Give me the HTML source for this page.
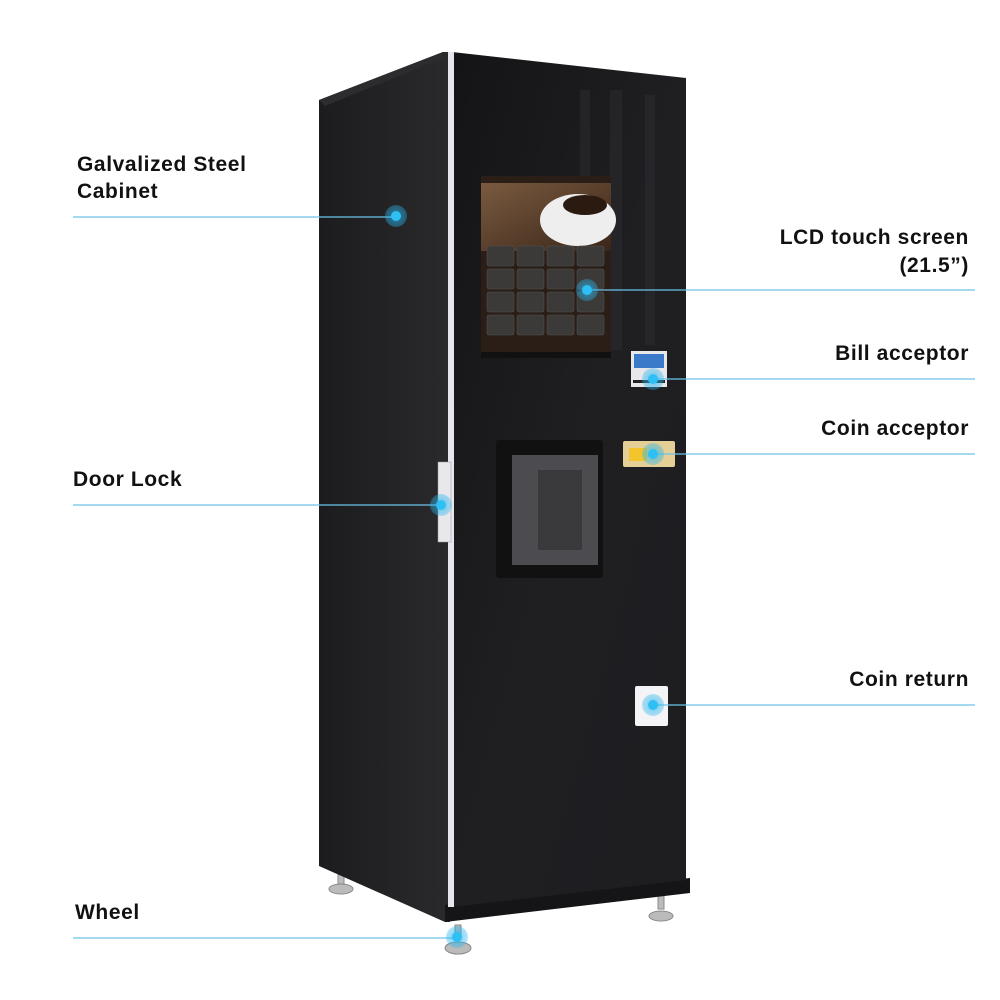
<!DOCTYPE html>
<html><head><meta charset="utf-8"><style>
html,body{margin:0;padding:0;background:#fff;}
svg{display:block}
text{font-family:"Liberation Sans",sans-serif;font-weight:bold;font-size:21px;fill:#111;letter-spacing:0.6px}
</style></head><body>
<svg width="1000" height="1000" viewBox="0 0 1000 1000">
<defs>
<linearGradient id="side" x1="0" x2="1" y1="0" y2="0"><stop offset="0" stop-color="#1c1c1e"/><stop offset="1" stop-color="#2a2a2d"/></linearGradient>
<linearGradient id="front" x1="0" x2="1" y1="0" y2="1"><stop offset="0" stop-color="#141416"/><stop offset="0.5" stop-color="#1f1f22"/><stop offset="1" stop-color="#1e1e21"/></linearGradient>
<linearGradient id="beans" x1="0" x2="1" y1="0" y2="1"><stop offset="0" stop-color="#7a5a40"/><stop offset="1" stop-color="#3a2618"/></linearGradient>
<radialGradient id="halo"><stop offset="0.4" stop-color="#2ab6ee" stop-opacity="0.55"/><stop offset="1" stop-color="#2ab6ee" stop-opacity="0.35"/></radialGradient>
</defs>
<g fill="#bbb" stroke="#888" stroke-width="1">
<rect x="338" y="870" width="6" height="14"/><ellipse cx="341" cy="889" rx="12" ry="5"/>
<rect x="658" y="895" width="6" height="14"/><ellipse cx="661" cy="916" rx="12" ry="5"/>
<rect x="455" y="925" width="6" height="14"/><ellipse cx="458" cy="948" rx="13" ry="6"/>
</g>
<polygon points="319,100 443,52 450,52 450,922 445,922 319,866" fill="url(#side)"/>
<polygon points="319,100 443,52 443,58 325,106" fill="#2c2c2f"/>
<polygon points="445,905 690,878 690,893 445,922" fill="#151517"/>
<polygon points="452,52 686,78 686,880 452,907" fill="url(#front)"/>
<rect x="448" y="52" width="6" height="855" fill="#e6e6ee"/>
<g fill="#2d2d31" opacity="0.5">
<rect x="580" y="90" width="10" height="260"/><rect x="610" y="90" width="12" height="260"/><rect x="645" y="95" width="10" height="250"/>
</g>
<rect x="481" y="176" width="130" height="182" fill="#2a1e16"/>
<rect x="481" y="183" width="130" height="68" fill="url(#beans)"/>
<ellipse cx="578" cy="220" rx="38" ry="26" fill="#eee"/>
<ellipse cx="585" cy="205" rx="22" ry="10" fill="#2a1a10"/>
<g fill="#3c3a38" stroke="#555" stroke-width="0.5">
<rect x="487" y="246" width="27" height="20" rx="2"/><rect x="517" y="246" width="27" height="20" rx="2"/><rect x="547" y="246" width="27" height="20" rx="2"/><rect x="577" y="246" width="27" height="20" rx="2"/>
<rect x="487" y="269" width="27" height="20" rx="2"/><rect x="517" y="269" width="27" height="20" rx="2"/><rect x="547" y="269" width="27" height="20" rx="2"/><rect x="577" y="269" width="27" height="20" rx="2"/>
<rect x="487" y="292" width="27" height="20" rx="2"/><rect x="517" y="292" width="27" height="20" rx="2"/><rect x="547" y="292" width="27" height="20" rx="2"/><rect x="577" y="292" width="27" height="20" rx="2"/>
<rect x="487" y="315" width="27" height="20" rx="2"/><rect x="517" y="315" width="27" height="20" rx="2"/><rect x="547" y="315" width="27" height="20" rx="2"/><rect x="577" y="315" width="27" height="20" rx="2"/>
</g>
<rect x="481" y="352" width="130" height="6" fill="#111"/>
<rect x="631" y="351" width="36" height="36" fill="#e8e8ea"/>
<rect x="634" y="354" width="30" height="14" fill="#3a7ac8"/>
<rect x="633" y="380" width="32" height="3" fill="#222"/>
<rect x="623" y="441" width="52" height="26" fill="#e4cf96" rx="2"/>
<rect x="629" y="448" width="18" height="13" fill="#f3c52c"/>
<rect x="496" y="440" width="107" height="138" fill="#111" rx="3"/>
<rect x="512" y="455" width="86" height="110" fill="#4c4c50"/>
<rect x="538" y="470" width="44" height="80" fill="#3a3a3c"/>
<rect x="635" y="686" width="33" height="40" fill="#f4f4f6" rx="2"/>
<rect x="438" y="462" width="13" height="80" fill="#e8e8ec" stroke="#999" stroke-width="0.5"/>
<g stroke="#6cc4ea" stroke-width="1.2">
<line x1="73" y1="217" x2="396" y2="217"/>
<line x1="592" y1="290" x2="975" y2="290"/>
<line x1="652" y1="379" x2="975" y2="379"/>
<line x1="652" y1="454" x2="975" y2="454"/>
<line x1="73" y1="505" x2="441" y2="505"/>
<line x1="652" y1="705" x2="975" y2="705"/>
<line x1="73" y1="938" x2="457" y2="938"/>
</g>
<g>
<circle cx="396" cy="216" r="11" fill="url(#halo)"/><circle cx="396" cy="216" r="5" fill="#2ec0f5"/>
<circle cx="587" cy="290" r="11" fill="url(#halo)"/><circle cx="587" cy="290" r="5" fill="#2ec0f5"/>
<circle cx="653" cy="379" r="11" fill="url(#halo)"/><circle cx="653" cy="379" r="5" fill="#2ec0f5"/>
<circle cx="653" cy="454" r="11" fill="url(#halo)"/><circle cx="653" cy="454" r="5" fill="#2ec0f5"/>
<circle cx="441" cy="505" r="11" fill="url(#halo)"/><circle cx="441" cy="505" r="5" fill="#2ec0f5"/>
<circle cx="653" cy="705" r="11" fill="url(#halo)"/><circle cx="653" cy="705" r="5" fill="#2ec0f5"/>
<circle cx="457" cy="937" r="11" fill="url(#halo)"/><circle cx="457" cy="937" r="5" fill="#2ec0f5"/>
</g>
<text x="77" y="171">Galvalized Steel</text>
<text x="77" y="198">Cabinet</text>
<text x="969" y="244" text-anchor="end">LCD touch screen</text>
<text x="969" y="272" text-anchor="end">(21.5”)</text>
<text x="969" y="360" text-anchor="end">Bill acceptor</text>
<text x="969" y="435" text-anchor="end">Coin acceptor</text>
<text x="73" y="486">Door Lock</text>
<text x="969" y="686" text-anchor="end">Coin return</text>
<text x="75" y="919">Wheel</text>
</svg>
</body></html>
